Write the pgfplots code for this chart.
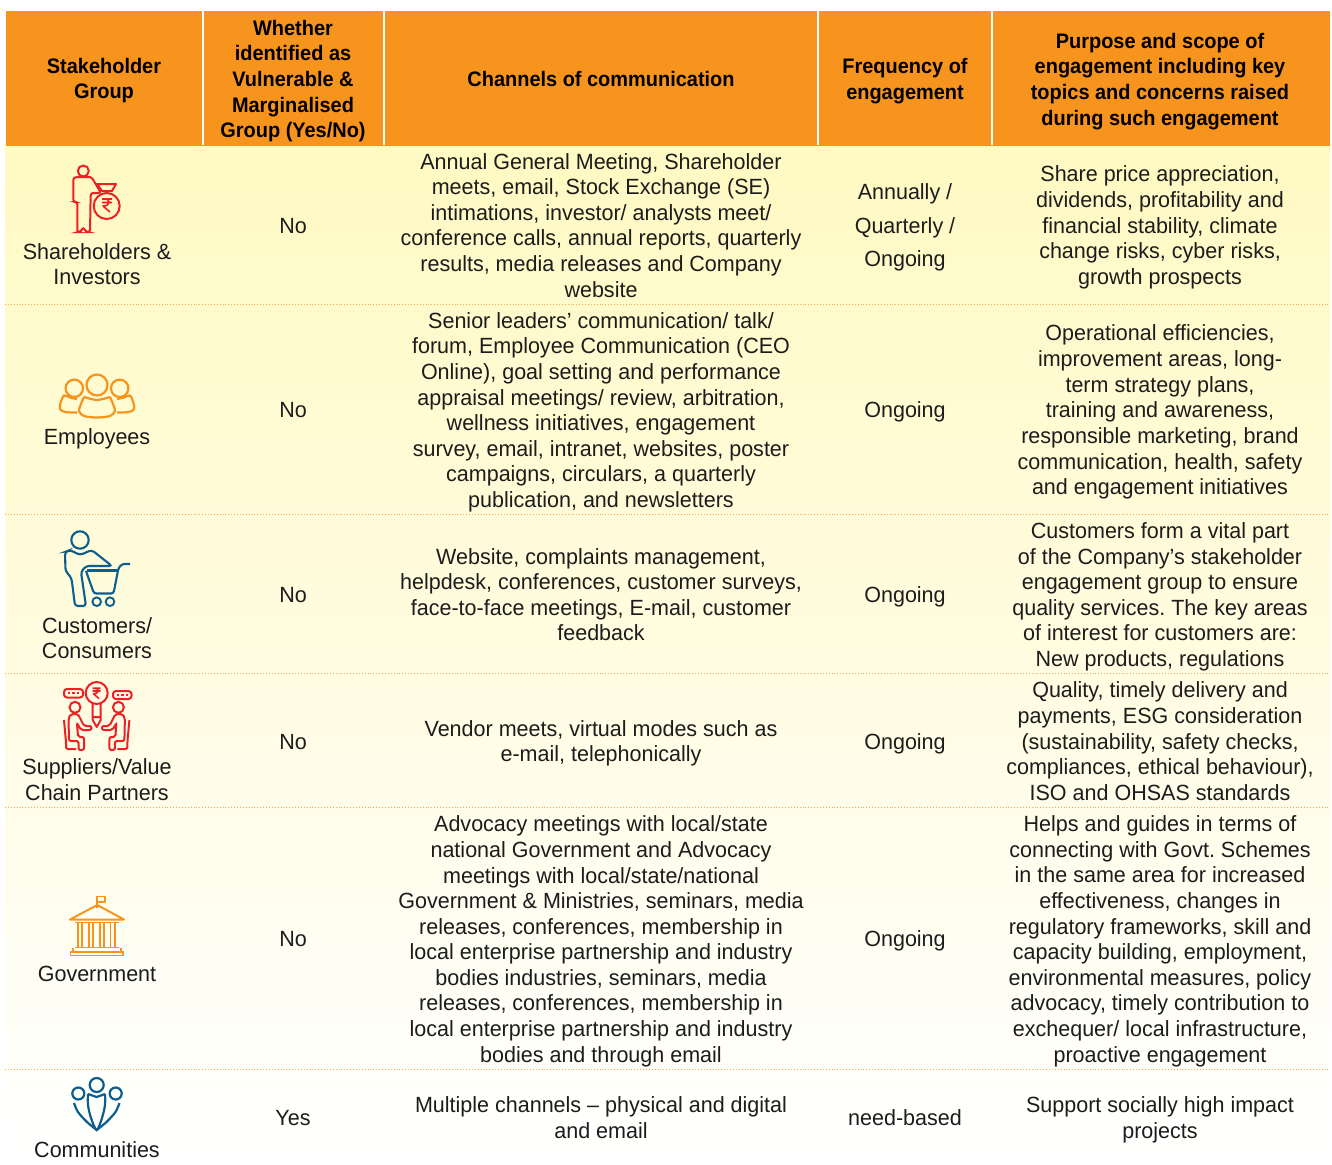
\documentclass[border=0pt]{standalone}
\usepackage{pgfplots}
\pgfplotsset{compat=1.18}
\usepackage{fontspec}
\setmainfont{Liberation Sans}[FakeStretch=0.978,BoldFeatures={FakeStretch=0.95}]
\definecolor{org}{HTML}{F7941D}
\definecolor{txt}{HTML}{1C1C1C}
\definecolor{icr}{HTML}{ED2024}
\definecolor{icb}{HTML}{0B5E8E}
\frenchspacing
\newcommand\B[3]{\node[anchor=center,text=black,font=\fontsize{21}{24}\selectfont\bfseries,inner sep=0pt] at (#1,#2+2.7) {\strut #3};}
\newcommand\T[3]{\node[anchor=center,text=txt,font=\fontsize{22}{24}\selectfont,inner sep=0pt] at (#1,#2+2.7) {\strut #3};}
\newcommand\Rup[3]{% cx cy scale
 \draw[line width=1.6,icr,line join=round] ({#1-5*#3},{#2-6*#3}) -- ({#1+5*#3},{#2-6*#3}) ({#1-5*#3},{#2-2.5*#3}) -- ({#1+5*#3},{#2-2.5*#3})
 ({#1-3*#3},{#2-6*#3}) .. controls ({#1+4*#3},{#2-6.5*#3}) and ({#1+4*#3},{#2+1*#3}) .. ({#1-4*#3},{#2+1*#3}) -- ({#1+3*#3},{#2+7*#3});}
\begin{document}
\begin{tikzpicture}
\begin{axis}[scale only axis,width=1332pt,height=1161pt,xmin=0,xmax=1332,ymin=0,ymax=1161,y dir=reverse,hide axis,clip=false]
% backgrounds
\addplot[draw=none,top color=white,bottom color=white] coordinates {(0,0)(1332,0)(1332,1161)(0,1161)} --cycle;
\addplot[draw=none,top color={rgb,255:red,255;green,249;blue,194},bottom color=white] coordinates {(5,145)(1330,145)(1330,1161)(5,1161)} --cycle;
\addplot[draw=none,fill=org] coordinates {(6,11)(1330,11)(1330,145.5)(6,145.5)} --cycle;
\addplot[white,line width=1.2] coordinates {(203,11)(203,145)};
\addplot[white,line width=1.2] coordinates {(384,11)(384,145)};
\addplot[white,line width=1.2] coordinates {(818,11)(818,145)};
\addplot[white,line width=1.2] coordinates {(992,11)(992,145)};
\addplot[org!80,line width=1,dash pattern=on 1pt off 1.9pt] coordinates {(5,304)(1330,304)};
\addplot[org!80,line width=1,dash pattern=on 1pt off 1.9pt] coordinates {(5,514)(1330,514)};
\addplot[org!80,line width=1,dash pattern=on 1pt off 1.9pt] coordinates {(5,673)(1330,673)};
\addplot[org!80,line width=1,dash pattern=on 1pt off 1.9pt] coordinates {(5,807)(1330,807)};
\addplot[org!80,line width=1,dash pattern=on 1pt off 1.9pt] coordinates {(5,1069)(1330,1069)};
% header
\B{104}{66}{Stakeholder}\B{104}{91}{Group}
\B{293}{28}{Whether}\B{293}{53}{identified as}\B{293}{79}{Vulnerable \&}\B{293}{105}{Marginalised}\B{293}{130}{Group (Yes/No)}
\B{601}{79}{Channels of communication}
\B{905}{66}{Frequency of}\B{905}{92}{engagement}
\B{1160}{41}{Purpose and scope of}\B{1160}{66}{engagement including key}\B{1160}{92}{topics and concerns raised}\B{1160}{118}{during such engagement}
% row 1
\T{97}{252}{Shareholders \&}\T{97}{277}{Investors}\T{293}{226}{No}
\T{601}{162}{Annual General Meeting, Shareholder}\T{601}{187}{meets, email, Stock Exchange (SE)}\T{601}{213}{intimations, investor/ analysts meet/}\T{601}{238}{conference calls, annual reports, quarterly}\T{601}{264}{results, media releases and Company}\T{601}{290}{website}
\T{905}{192}{Annually /}\T{905}{226}{Quarterly /}\T{905}{259}{Ongoing}
\T{1160}{174}{Share price appreciation,}\T{1160}{200}{dividends, profitability and}\T{1160}{226}{financial stability, climate}\T{1160}{251}{change risks, cyber risks,}\T{1160}{277}{growth prospects}
% row 2
\T{97}{437}{Employees}\T{293}{410}{No}
\T{601}{321}{Senior leaders' communication/ talk/}\T{601}{346}{forum, Employee Communication (CEO}\T{601}{372}{Online), goal setting and performance}\T{601}{398}{appraisal meetings/ review, arbitration,}\T{601}{423}{wellness initiatives, engagement}\T{601}{449}{survey, email, intranet, websites, poster}\T{601}{474}{campaigns, circulars, a quarterly}\T{601}{500}{publication, and newsletters}
\T{905}{410}{Ongoing}
\T{1160}{333}{Operational efficiencies,}\T{1160}{359}{improvement areas, long-}\T{1160}{385}{term strategy plans,}\T{1160}{410}{training and awareness,}\T{1160}{436}{responsible marketing, brand}\T{1160}{462}{communication, health, safety}\T{1160}{487}{and engagement initiatives}
% row 3
\T{97}{626}{Customers/}\T{97}{651}{Consumers}\T{293}{595}{No}
\T{601}{557}{Website, complaints management,}\T{601}{582}{helpdesk, conferences, customer surveys,}\T{601}{608}{face-to-face meetings, E-mail, customer}\T{601}{633}{feedback}
\T{905}{595}{Ongoing}
\T{1160}{531}{Customers form a vital part}\T{1160}{557}{of the Company's stakeholder}\T{1160}{582}{engagement group to ensure}\T{1160}{608}{quality services. The key areas}\T{1160}{633}{of interest for customers are:}\T{1160}{659}{New products, regulations}
% row 4
\T{97}{767}{Suppliers/Value}\T{97}{793}{Chain Partners}\T{293}{742}{No}
\T{601}{729}{Vendor meets, virtual modes such as}\T{601}{754}{e-mail, telephonically}
\T{905}{742}{Ongoing}
\T{1160}{690}{Quality, timely delivery and}\T{1160}{716}{payments, ESG consideration}\T{1160}{742}{(sustainability, safety checks,}\T{1160}{767}{compliances, ethical behaviour),}\T{1160}{793}{ISO and OHSAS standards}
% row 5
\T{97}{974}{Government}\T{293}{939}{No}
\T{601}{824}{Advocacy meetings with local/state}\T{601}{850}{national Government and Advocacy}\T{601}{876}{meetings with local/state/national}\T{601}{901}{Government \& Ministries, seminars, media}\T{601}{927}{releases, conferences, membership in}\T{601}{952}{local enterprise partnership and industry}\T{601}{978}{bodies industries, seminars, media}\T{601}{1003}{releases, conferences, membership in}\T{601}{1029}{local enterprise partnership and industry}\T{601}{1055}{bodies and through email}
\T{905}{939}{Ongoing}
\T{1160}{824}{Helps and guides in terms of}\T{1160}{850}{connecting with Govt. Schemes}\T{1160}{875}{in the same area for increased}\T{1160}{901}{effectiveness, changes in}\T{1160}{927}{regulatory frameworks, skill and}\T{1160}{952}{capacity building, employment,}\T{1160}{978}{environmental measures, policy}\T{1160}{1003}{advocacy, timely contribution to}\T{1160}{1029}{exchequer/ local infrastructure,}\T{1160}{1055}{proactive engagement}
% row 6
\T{97}{1150}{Communities}\T{293}{1118}{Yes}
\T{601}{1105}{Multiple channels -- physical and digital}\T{601}{1131}{and email}
\T{905}{1118}{need-based}
\T{1160}{1105}{Support socially high impact}\T{1160}{1131}{projects}
% icon 1
\draw[icr,line width=2,line join=round] (83.3,171) circle[radius=5.5];
\draw[icr,line width=2,rounded corners=2.5] (80,177)--(73.3,177.5)--(73.3,202)--(77.3,202)--(77.3,232)--(80.5,232)--(83.3,227)--(86,232)--(90,232)--(90.7,193)--(101,193)--(91.5,177)--(88,177)--cycle;
\draw[icr,line width=2] (106.7,206) circle[radius=13];
\draw[icr,line width=2,line join=round] (97,184)--(116,184)--(112,191)--(102,191)--cycle;
\Rup{107}{205}{1}
% icon 2
\draw[org,line width=2.2] (97,385) circle[radius=10.5] (74.3,388.3) circle[radius=8.7] (119.7,388.3) circle[radius=8.7];
\addplot[org,line width=2.2,smooth,mark=none] coordinates {(84,397)(81,404)(79,411)(84,416)(97,417.5)(110,416)(115,411)(113,404)(110,397)};
\addplot[org,line width=2.2,smooth,mark=none] coordinates {(84,397)(97,400)(110,397)};
\addplot[org,line width=2.2,smooth,mark=none] coordinates {(77,399)(70,397.5)(64,395.5)(60.5,403)(60,409)(65,412)(77,412.5)};
\addplot[org,line width=2.2,smooth,mark=none] coordinates {(117,399)(124,397.5)(130,395.5)(133.5,403)(134,409)(129,412)(117,412.5)};
% icon 3
\draw[icb,line width=2.1] (80,540) circle[radius=8.7];
\draw[icb,line width=2.1,rounded corners=3] (70,550)--(80,555)--(91.7,550)--(112,566)--(86,566)--(81,572)--(86,606)--(75,606)--(71.5,578)--(65.5,571)--(65,552)--cycle;
\draw[icb,line width=2.1,rounded corners=2.5] (86,571)--(94,593.5)--(113.5,593.5)--(118.5,568)--(122,564)--(130,564);
\draw[icb,line width=2.1] (87,570.5)--(118,570.5);
\draw[icb,line width=1.9] (96.7,601.7) circle[radius=4.3] (110,601.7) circle[radius=4.3];
% icon 4
\draw[icr,line width=2] (96.7,693) circle[radius=11];
\Rup{96.7}{693}{0.8}
\draw[icr,line width=2,line join=round] (92.7,704)--(92.7,720)--(96.7,727)--(100.7,720)--(100.7,704) (92.7,717)--(100.7,717);
\draw[icr,line width=2,rounded corners=3] (64,689)--(83,689)--(83,697.5)--(64,697.5)--cycle;
\draw[icr,line width=2,rounded corners=3] (113,691)--(131.5,691)--(131.5,699)--(113,699)--cycle;
\draw[icr,line width=2.4,dash pattern=on 2.4pt off 2pt] (68,693)--(79,693) (117,695)--(128,695);
\draw[icr,line width=2] (75,707.3) circle[radius=5.5] (118.4,707.3) circle[radius=5.5];
\draw[icr,line width=2,rounded corners=2] (71,714)--(78,714)--(84,726)--(91.5,726)--(91.5,730)--(81,730)--(77,723)--(78,737)--(84,737)--(84,750)--(78.5,750)--(78.5,741)--(69,741)--(68.5,718)--cycle;
\draw[icr,line width=2,rounded corners=2] (122.4,714)--(115.4,714)--(109.4,726)--(101.9,726)--(101.9,730)--(112.4,730)--(116.4,723)--(115.4,737)--(109.4,737)--(109.4,750)--(114.9,750)--(114.9,741)--(124.4,741)--(124.9,718)--cycle;
\draw[icr,line width=2,rounded corners=2] (64,720)--(66,742)--(66,749)--(76,749);
\draw[icr,line width=2,rounded corners=2] (129.4,720)--(127.4,742)--(127.4,749)--(117.4,749);
% icon 5
\draw[org,line width=1.9,line join=round] (96.7,908)--(96.7,896.5)--(105,896.5)--(105,902)--(96.7,902);
\draw[org,line width=2,line join=round] (70,919.5)--(97.3,905)--(124,919.5)--cycle;
\draw[org,line width=1.9] (75,922.5)--(118.5,922.5) (75,947.5)--(118.5,947.5);
\draw[org,line width=1.9] (78,923)--(78,947) (82,923)--(82,947) (88.7,923)--(88.7,947) (93,923)--(93,947) (99.7,923)--(99.7,947) (104,923)--(104,947) (110.5,923)--(110.5,947) (114.8,923)--(114.8,947);
\draw[org,line width=1.9] (73,948)--(73,952)--(121,952)--(121,948) (70.5,952)--(70.5,955.5)--(123,955.5)--(123,952)--cycle;
% icon 6
\draw[icb,line width=2.2] (96.7,1085) circle[radius=7] (78.3,1093.5) circle[radius=6] (115.7,1093.5) circle[radius=6];
\addplot[icb,line width=2.2,smooth,mark=none] coordinates {(88,1094)(88,1105)(91,1118)(96.7,1130)(102,1118)(105,1105)(105,1094)};
\addplot[icb,line width=2.2,mark=none] coordinates {(88,1094)(96.7,1097)(105,1094)};
\addplot[icb,line width=2.2,smooth,mark=none] coordinates {(74,1103)(78,1112)(87,1122)(96.7,1130)};
\addplot[icb,line width=2.2,smooth,mark=none] coordinates {(119.5,1103)(115.5,1112)(106.5,1122)(96.7,1130)};
\end{axis}
\end{tikzpicture}
\end{document}
